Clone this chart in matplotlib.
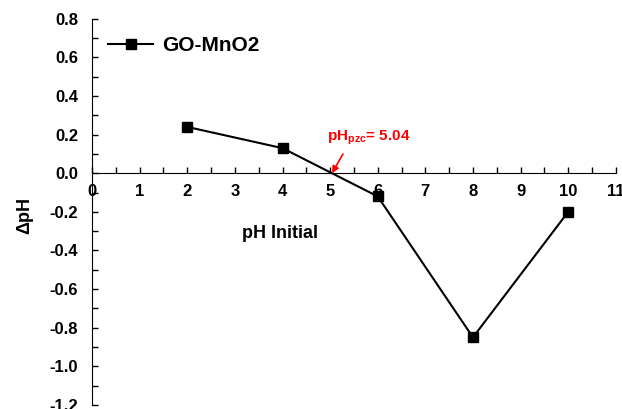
import matplotlib
matplotlib.use("Agg")
import matplotlib.pyplot as plt
from matplotlib.ticker import MultipleLocator

ph_initial = [2, 4, 6, 8, 10]
delta_ph = [0.24, 0.13, -0.12, -0.85, -0.20]
ph_pzc = 5.04

plt.rcParams["font.family"] = ["Liberation Sans", "DejaVu Sans"]
plt.rcParams["font.weight"] = "bold"
plt.rcParams["mathtext.fontset"] = "custom"
plt.rcParams["mathtext.bf"] = "Liberation Sans:bold"
plt.rcParams["mathtext.rm"] = "Liberation Sans:bold"

fig = plt.figure(figsize=(6.22, 4.09), dpi=100)
ax = fig.add_axes([0.148, 0.01, 0.842, 0.944])

ax.plot(ph_initial, delta_ph, color="black", lw=1.5, marker="s", ms=7,
        label="GO-MnO2")

ax.set_xlim(0, 11)
ax.set_ylim(-1.2, 0.8)

ax.spines["left"].set_position(("data", 0))
ax.spines["bottom"].set_position(("data", 0))
ax.spines["right"].set_visible(False)
ax.spines["top"].set_visible(False)

ax.xaxis.set_major_locator(MultipleLocator(1))
ax.xaxis.set_minor_locator(MultipleLocator(0.5))
ax.yaxis.set_major_locator(MultipleLocator(0.2))
ax.yaxis.set_minor_locator(MultipleLocator(0.1))
ax.yaxis.set_major_formatter(plt.FuncFormatter(lambda v, p: f"{v:.1f}"))

ax.tick_params(axis="both", which="both", direction="in", length=4, width=1,
               labelsize=12)
ax.tick_params(axis="x", pad=8)
ax.tick_params(axis="y", pad=10)
for lbl in ax.get_xticklabels() + ax.get_yticklabels():
    lbl.set_fontweight("bold")

fig.text(280 / 622, 1 - 233 / 409, "pH Initial", fontsize=13, fontweight="bold",
         ha="center", va="center")
fig.text(25 / 622, 1 - 215 / 409, "ΔpH", fontsize=13, fontweight="bold",
         ha="center", va="center", rotation=90)

# pHpzc label and arrow
ax.text(4.93, 0.135, r"pH$_{\mathbf{pzc}}$= 5.04", color="red", fontsize=11,
        fontweight="bold", ha="left", va="bottom")
ax.annotate("", xy=(ph_pzc, 0), xytext=(5.27, 0.1),
            arrowprops=dict(arrowstyle="-|>", color="red", lw=1.2,
                            shrinkA=0, shrinkB=0, mutation_scale=10))

leg = ax.legend(loc="upper left", bbox_to_anchor=(-0.006, 1.003), frameon=False,
                prop={"size": 15, "weight": "bold"}, handlelength=2.2,
                handletextpad=0.4)

fig.savefig("out.png", dpi=100)
